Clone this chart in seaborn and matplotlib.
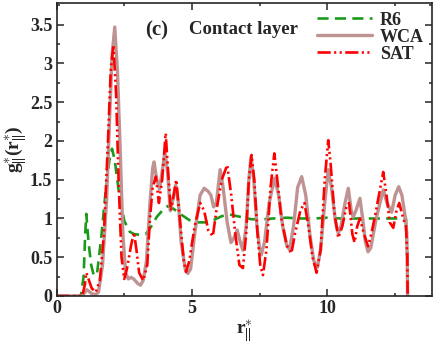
import matplotlib
matplotlib.use("Agg")
import matplotlib.pyplot as plt
import seaborn as sns

# ---- data ----
r6_x = [0, 0.9, 1.0, 1.06, 1.1, 1.18, 1.28, 1.38, 1.5, 1.65, 1.8, 1.95, 2.05, 2.15, 2.3, 2.5, 2.7, 2.85,
        3.05, 3.3, 3.5, 3.7, 3.9, 4.1, 4.3, 4.6, 4.9, 5.2, 5.5, 5.8, 6.1, 6.4, 6.8, 7.2, 7.6, 8.0, 8.5,
        9.0, 9.5, 10.0, 10.5, 11.0, 11.5, 12.0, 12.5, 12.9, 12.95, 12.96]
r6_y = [0, 0, 0.25, 0.8, 1.06, 0.7, 0.4, 0.26, 0.3, 0.75, 1.3, 1.75, 1.9, 1.75, 1.35, 0.97, 0.83, 0.8,
        0.79, 0.8, 0.9, 1.02, 1.1, 1.16, 1.13, 1.05, 0.98, 0.95, 0.95, 0.98, 1.03, 1.05, 1.02, 0.99,
        0.99, 1.0, 1.01, 1.0, 1.0, 1.01, 1.0, 1.0, 1.0, 1.0, 1.0, 1.0, 0.5, 0]

wca_x = [0, 0.95, 1.05, 1.12, 1.2, 1.3, 1.45, 1.55, 1.7, 1.85, 1.95, 2.05, 2.15, 2.25, 2.35, 2.45, 2.55,
         2.65, 2.75, 2.85, 3.0, 3.1, 3.2, 3.32, 3.45, 3.55, 3.6, 3.7, 3.8, 3.9, 4.0, 4.1, 4.2, 4.3, 4.4,
         4.5, 4.6, 4.75, 4.85, 4.95, 5.1, 5.3, 5.45, 5.6, 5.7, 5.8, 5.9, 6.04, 6.15, 6.3, 6.44, 6.55,
         6.67, 6.78, 6.88, 7.0, 7.1, 7.18, 7.28, 7.4, 7.5, 7.56, 7.68, 7.85, 8.05, 8.2, 8.35, 8.5, 8.6,
         8.75, 8.9, 9.05, 9.2, 9.35, 9.5, 9.63, 9.75, 9.9, 10.03, 10.15, 10.3, 10.4, 10.5, 10.65, 10.77,
         10.88, 10.95, 11.05, 11.2, 11.3, 11.4, 11.5, 11.6, 11.8, 12.06, 12.2, 12.37, 12.5, 12.63,
         12.75, 12.88, 12.93, 12.96]
wca_y = [0, 0, 0.05, 0.08, 0.06, 0.03, 0.02, 0.05, 0.4, 1.24, 2.2, 3.1, 3.47, 2.9, 1.9, 0.8, 0.3,
         0.22, 0.24, 0.22, 0.16, 0.14, 0.2, 0.45, 1.2, 1.65, 1.73, 1.5, 1.38, 1.6, 1.86, 1.6, 1.1, 1.25,
         1.43, 1.2, 0.7, 0.35, 0.29, 0.35, 0.8, 1.3, 1.39, 1.35, 1.3, 1.15, 1.2, 1.63, 1.4, 0.95, 0.69,
         0.75, 0.85, 0.7, 0.59, 0.9, 1.5, 1.8, 1.5, 0.9, 0.6, 0.53, 0.7, 1.2, 1.52, 1.3, 0.9, 0.65, 0.6,
         0.9, 1.4, 1.54, 1.3, 0.8, 0.45, 0.37, 0.6, 1.2, 1.63, 1.4, 0.95, 0.81, 0.9, 1.2, 1.39, 1.1,
         1.02, 1.1, 1.26, 1.0, 0.7, 0.57, 0.62, 1.0, 1.37, 1.2, 1.08, 1.3, 1.41, 1.3, 1.0, 0.8, 0]

sat_x = [0, 0.95, 1.05, 1.1, 1.2, 1.3, 1.45, 1.6, 1.75, 1.9, 2.0, 2.1, 2.2, 2.3, 2.4, 2.5, 2.6, 2.75,
         2.86, 2.95, 3.05, 3.2, 3.35, 3.45, 3.55, 3.67, 3.78, 3.9, 4.03, 4.12, 4.22, 4.35, 4.42, 4.55,
         4.7, 4.78, 4.9, 5.1, 5.3, 5.45, 5.6, 5.77, 5.9, 6.1, 6.3, 6.45, 6.6, 6.75, 6.88, 7.0, 7.1, 7.2,
         7.3, 7.42, 7.52, 7.62, 7.75, 7.9, 8.04, 8.15, 8.3, 8.5, 8.67, 8.8, 9.0, 9.15, 9.3, 9.45, 9.6,
         9.75, 9.9, 10.03, 10.12, 10.25, 10.4, 10.55, 10.7, 10.8, 10.92, 11.0, 11.1, 11.2, 11.35, 11.5,
         11.62, 11.75, 11.9, 12.06, 12.18, 12.3, 12.43, 12.55, 12.65, 12.8, 12.9, 12.95, 12.96]
sat_y = [0, 0, 0.15, 0.3, 0.2, 0.1, 0.05, 0.2, 0.8, 2.0, 2.9, 3.24, 2.6, 1.4, 0.5, 0.22, 0.35, 0.65,
         0.82, 0.6, 0.3, 0.2, 0.4, 1.0, 1.4, 1.54, 1.2, 1.5, 2.1, 1.6, 1.1, 1.35, 1.5, 1.0, 0.45, 0.31,
         0.45, 0.9, 1.2, 1.1, 0.85, 0.77, 1.1, 1.5, 1.69, 1.3, 0.8, 0.4, 0.36, 0.8, 1.5, 1.82, 1.5, 0.8,
         0.4, 0.27, 0.6, 1.4, 1.84, 1.5, 1.0, 0.65, 0.55, 0.8, 1.1, 1.2, 0.9, 0.5, 0.3, 0.6, 1.5, 2.01,
         1.7, 1.1, 0.75, 0.9, 1.15, 1.2, 0.8, 0.69, 0.9, 1.0, 0.8, 0.64, 0.8, 1.02, 1.3, 1.6, 1.3, 0.95,
         0.88, 1.1, 1.2, 1.0, 0.9, 0.5, 0]

labels = ["R6", "WCA", "SAT"]
xticks = [0, 5, 10]
yticks = [0, 0.5, 1, 1.5, 2, 2.5, 3, 3.5]
ytick_labels = ["0", "0.5", "1", "1.5", "2", "2.5", "3", "3.5"]

# ---- style ----
sns.set_style("ticks")
plt.rcParams["font.family"] = ["Liberation Serif", "DejaVu Serif"]
plt.rcParams["font.weight"] = "bold"
plt.rcParams["mathtext.fontset"] = "custom"
plt.rcParams["mathtext.rm"] = "Liberation Serif:bold"
plt.rcParams["mathtext.bf"] = "Liberation Serif:bold"
plt.rcParams["mathtext.it"] = "Liberation Serif:bold"

fig = plt.figure(figsize=(4.36, 3.43), dpi=100)
ax = fig.add_axes([56.5 / 436, 47 / 343, (432 - 56.5) / 436, (296 - 3) / 343])

sns.lineplot(x=r6_x, y=r6_y, ax=ax, color="#1a9a1a", linewidth=1.9, sort=False, estimator=None,
             linestyle=(0, (4.2, 2.4)), label=labels[0])
sns.lineplot(x=wca_x, y=wca_y, ax=ax, color="#c09393", linewidth=2.4, sort=False, estimator=None,
             label=labels[1])
sns.lineplot(x=sat_x, y=sat_y, ax=ax, color="#ff0000", linewidth=1.9, sort=False, estimator=None,
             linestyle=(0, (5, 1.3, 0.8, 1.3, 0.8, 1.3)), label=labels[2])

ax.set_xlim(0, 13.86)
ax.set_ylim(0, 3.78)
ax.set_xticks(xticks)
ax.set_xticks([2.5, 7.5, 12.5], minor=True)
ax.set_yticks(yticks)
ax.set_yticklabels(ytick_labels)
ax.set_yticks([0.25, 0.75, 1.25, 1.75, 2.25, 2.75, 3.25, 3.75], minor=True)
ax.tick_params(which="both", direction="in", top=True, right=True, labelsize=13, width=1.1)
ax.tick_params(which="major", length=5, pad=3)
ax.tick_params(which="minor", length=2.5)
for s in ax.spines.values():
    s.set_linewidth(1.2)

ax.set_xlabel(r"$\mathbf{r_{||}^{\ast}}$", fontsize=14, labelpad=1)
ax.set_ylabel(r"$\mathbf{g_{||}^{\ast}(r_{||}^{\ast})}$", fontsize=14, labelpad=1)

ax.text(0.237, 0.905, "(c)", transform=ax.transAxes, fontsize=15, fontweight="bold", va="center")
ax.text(0.354, 0.908, "Contact layer", transform=ax.transAxes, fontsize=13.5, fontweight="bold", va="center")

leg = ax.legend(loc="upper left", bbox_to_anchor=(0.695, 0.97), frameon=False, fontsize=13,
                handlelength=3.0, handletextpad=0.45, labelspacing=0.0, borderpad=0, borderaxespad=0)

fig.savefig("out.png", dpi=100)
